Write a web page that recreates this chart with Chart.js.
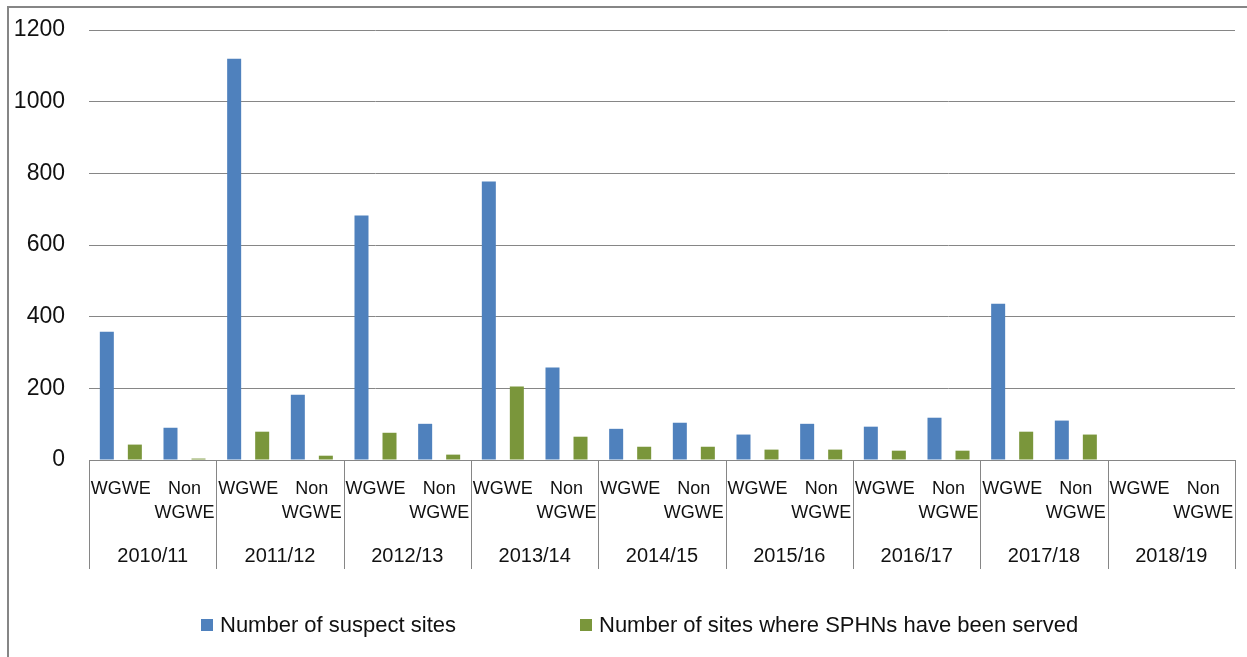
<!DOCTYPE html>
<html>
<head>
<meta charset="utf-8">
<script src="https://cdn.jsdelivr.net/npm/chart.js@4/dist/chart.umd.min.js"></script>
<style>
  html, body { margin: 0; padding: 0; background: #fff; overflow: hidden; }
</style>
</head>
<body>
<canvas id="chart" width="1247" height="657"></canvas>
<script>
// data
const years = ["2010/11", "2011/12", "2012/13", "2013/14", "2014/15", "2015/16", "2016/17", "2017/18", "2018/19"];
const groups = ["WGWE", "Non WGWE"];
const categories = years.flatMap(y => groups);
const suspectSites = [358, 90, 1120, 182, 682, 101, 777, 258, 87, 104, 71, 101, 93, 118, 436, 110, null, null];
const sphnSites = [43, 4, 79, 12, 76, 15, 205, 65, 37, 37, 29, 29, 26, 26, 79, 71, null, null];
const yTicks = [0, 200, 400, 600, 800, 1000, 1200];

const BLUE = "#4F81BD";
const GREEN = "#7A963B";
const GRID = "#868686";
const FONT = '"Liberation Sans", Arial, sans-serif';

// separators, year row, legend and outer frame
const decor = {
    id: "decor",
    beforeDraw(chart) {
        const ctx = chart.ctx;
        ctx.save();
        ctx.fillStyle = "#fff";
        ctx.fillRect(0, 0, chart.width, chart.height);
        ctx.restore();
    },
    afterDraw(chart) {
        const { ctx } = chart;
        const x = chart.scales.x;
        const w = (x.right - x.left) / categories.length;
        ctx.save();
        ctx.strokeStyle = GRID;
        ctx.lineWidth = 1;
        for (let k = 0; k <= years.length; k++) {
            const px = Math.round(x.left + k * groups.length * w) + 0.5;
            ctx.beginPath();
            ctx.moveTo(px, x.top);
            ctx.lineTo(px, x.top + 109);
            ctx.stroke();
        }
        ctx.fillStyle = "#111";
        ctx.font = "20px " + FONT;
        ctx.textAlign = "center";
        ctx.textBaseline = "middle";
        years.forEach((y, k) => {
            ctx.fillText(y, x.left + (k + 0.5) * groups.length * w, x.top + 96);
        });

        // legend
        const items = [
            { text: "Number of suspect sites", color: BLUE, x: 201 },
            { text: "Number of sites where SPHNs have been served", color: GREEN, x: 580 }
        ];
        ctx.font = "22px " + FONT;
        ctx.textAlign = "left";
        items.forEach(it => {
            ctx.fillStyle = it.color;
            ctx.fillRect(it.x, 619, 12, 12);
            ctx.fillStyle = "#111";
            ctx.fillText(it.text, it.x + 19, 626);
        });

        // outer frame
        ctx.strokeStyle = GRID;
        ctx.lineWidth = 2;
        ctx.strokeRect(8, 7, 1260, 680);
        ctx.restore();
    }
};

new Chart(document.getElementById("chart"), {
    type: "bar",
    data: {
        labels: categories,
        datasets: [
            {
                label: "Number of suspect sites",
                data: suspectSites,
                backgroundColor: BLUE,
                borderWidth: 0
            },
            {
                label: "Number of sites where SPHNs have been served",
                data: sphnSites,
                backgroundColor: GREEN,
                borderWidth: 0
            }
        ]
    },
    options: {
        responsive: false,
        devicePixelRatio: 1,
        animation: false,
        events: [],
        layout: { padding: { top: 30, right: 12, bottom: 0, left: 0 } },
        datasets: { bar: { categoryPercentage: 0.88, barPercentage: 0.5 } },
        plugins: {
            legend: { display: false },
            tooltip: { enabled: false }
        },
        scales: {
            x: {
                grid: { display: false, drawTicks: false },
                border: { color: GRID, width: 1 },
                ticks: {
                    autoSkip: false,
                    maxRotation: 0,
                    minRotation: 0,
                    padding: 17,
                    color: "#111",
                    font: { family: FONT, size: 18, lineHeight: 1.35 },
                    callback: (v, i) => categories[i].split(" ")
                },
                afterFit: s => { s.height = 197; s.paddingLeft = 0; s.paddingRight = 0; }
            },
            y: {
                min: 0,
                max: 1200,
                afterBuildTicks: s => { s.ticks = yTicks.map(v => ({ value: v })); },
                grid: { color: GRID, lineWidth: 1, drawTicks: false },
                border: { display: false },
                ticks: {
                    padding: 24,
                    color: "#111",
                    font: { family: FONT, size: 23 },
                    callback: v => String(v)
                },
                afterFit: s => { s.width = 89; s.paddingTop = 0; s.paddingBottom = 0; }
            }
        }
    },
    plugins: [decor]
});
</script>
</body>
</html>
